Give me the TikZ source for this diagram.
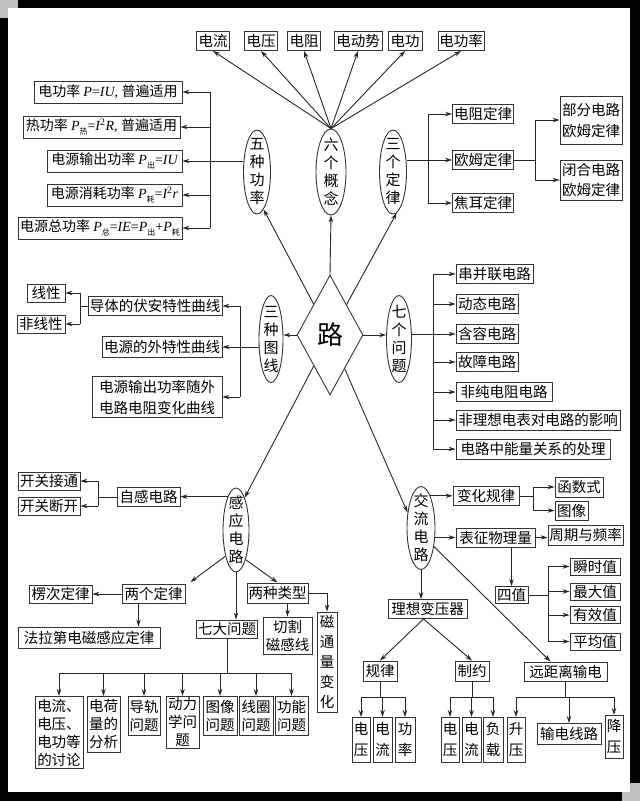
\documentclass[tikz,border=0pt]{standalone}
\usepackage{fontspec}
\setmainfont{Noto Sans CJK SC}
\newfontfamily\ser{Liberation Serif}
\usetikzlibrary{shapes.geometric,arrows.meta}
\newcommand{\myit}[1]{{\ser\itshape #1}}
\newcommand{\myrm}[1]{{\ser #1}}
\newcommand{\mysub}[1]{\raisebox{-0.45ex}{\fontsize{8}{8}\selectfont #1}}
\tikzset{
  box/.style={draw=black!80, line width=0.9pt, inner sep=1pt, font=\fontsize{14.5}{17}\selectfont, align=center},
  vbox/.style={box, font=\fontsize{14.5}{21}\selectfont},
  pbox/.style={box, font=\fontsize{14}{17}\selectfont},
  sz/.style 2 args={minimum width=#1pt, minimum height=#2pt},
  ell/.style={ellipse, draw=black!80, line width=0.9pt, inner xsep=0pt, inner ysep=-10pt, font=\fontsize{15}{18}\selectfont, align=center},
  arr/.style={draw=black!85, line width=0.9pt, -{Stealth[length=7pt,width=4.5pt]}},
  ln/.style={draw=black!85, line width=0.9pt}
}
\begin{document}
\begin{tikzpicture}[x=1pt,y=-1pt]
\useasboundingbox (0,0) rectangle (640,801);
% frame
\fill[black] (0,0) rectangle (640,801);
\fill[black!25] (0,0) rectangle (18,18);
\fill[black!25] (622,783) rectangle (640,801);
\fill[white] (8,8) rectangle (630,792);

% centre
\node[diamond, draw=black!80, line width=0.9pt, minimum width=66pt, minimum height=120pt, inner sep=0pt, font=\fontsize{26}{26}\selectfont] (dia) at (330,335) {路};

% ellipses
\node[ell, sz={27}{84}] (e5) at (257,172) {五\\种\\功\\率};
\node[ell, sz={30}{86}] (e6) at (331,172) {六\\个\\概\\念};
\node[ell, sz={27}{84}] (e3) at (393,172) {三\\个\\定\\律};
\node[ell, sz={24}{87}] (eT) at (271,339) {三\\种\\图\\线};
\node[ell, sz={25}{87}] (e7) at (399,339) {七\\个\\问\\题};
\node[ell, sz={26}{84}] (eG) at (236,530) {感\\应\\电\\路};
\node[ell, sz={28}{83}] (eJ) at (421,528) {交\\流\\电\\路};

% six concepts
\node[box, sz={33}{19}] (c1) at (213,41) {电流};
\node[box, sz={33}{19}] (c2) at (261,41) {电压};
\node[box, sz={33}{19}] (c3) at (304,41) {电阻};
\node[box, sz={48}{19}] (c4) at (358,41) {电动势};
\node[box, sz={34}{19}] (c5) at (405,41) {电功};
\node[box, sz={46}{19}] (c6) at (461,41) {电功率};

% five powers
\node[pbox, sz={148}{22}] (b1) at (108,92) {电功率 \myit{P}\myrm{=}\myit{IU}\myrm{, }普遍适用};
\node[pbox, sz={157}{22}] (b2) at (101.5,127) {热功率 \myit{P}\mysub{热}\myrm{=}\myit{I}\myrm{\textsuperscript{2}}\myit{R}\myrm{, }普遍适用};
\node[pbox, sz={135}{22}] (b3) at (114.5,161) {电源输出功率 \myit{P}\mysub{出}\myrm{=}\myit{IU}};
\node[pbox, sz={135}{22}] (b4) at (114.5,195) {电源消耗功率 \myit{P}\mysub{耗}\myrm{=}\myit{I}\myrm{\textsuperscript{2}}\myit{r}};
\node[pbox, sz={164}{22}] (b5) at (100,228) {电源总功率 \myit{P}\mysub{总}\myrm{=}\myit{IE}\myrm{=}\myit{P}\mysub{出}\myrm{+}\myit{P}\mysub{耗}};

% three laws
\node[box, sz={61}{19}] (L1) at (483,114) {电阻定律};
\node[box, sz={61}{19}] (L2) at (483,160) {欧姆定律};
\node[box, sz={61}{19}] (L3) at (483,203) {焦耳定律};
\node[vbox, sz={62}{48}] (LA) at (591,120) {部分电路\\欧姆定律};
\node[vbox, sz={62}{40}, font=\fontsize{14.5}{20}\selectfont] (LB) at (591,180) {闭合电路\\欧姆定律};

% seven problems
\node[box, sz={77}{19}] (s1) at (494.5,274) {串并联电路};
\node[box, sz={62}{19}] (s2) at (487,304) {动态电路};
\node[box, sz={62}{19}] (s3) at (487,334) {含容电路};
\node[box, sz={62}{19}] (s4) at (487,362) {故障电路};
\node[box, sz={96}{19}] (s5) at (504,392) {非纯电阻电路};
\node[box, sz={164}{20}] (s6) at (538,420) {非理想电表对电路的影响};
\node[box, sz={154}{20}] (s7) at (533,449) {电路中能量关系的处理};

% three curves
\node[box, sz={134}{19}] (t1) at (155,306) {导体的伏安特性曲线};
\node[box, sz={120}{21}] (t2) at (162,347) {电源的外特性曲线};
\node[vbox, sz={130}{41}] (t3) at (157,397) {电源输出功率随外\\电路电阻变化曲线};
\node[box, sz={38}{18}] (t4) at (46,293) {线性};
\node[box, sz={48}{18}] (t5) at (41,324) {非线性};

% induction circuit
\node[box, sz={63}{19}] (z1) at (148.5,497) {自感电路};
\node[box, sz={62}{18}] (z2) at (49,481) {开关接通};
\node[box, sz={62}{18}] (z3) at (49,506) {开关断开};
\node[box, sz={63}{18}] (w1) at (60.5,594) {楞次定律};
\node[box, sz={63}{19}] (w2) at (153.5,594) {两个定律};
\node[box, sz={61}{20}] (w3) at (277.5,593) {两种类型};
\node[box, sz={142}{21}] (w4) at (89,637.5) {法拉第电磁感应定律};
\node[box, sz={49}{37}, font=\fontsize{14.5}{18}\selectfont] (w5) at (287.5,635.5) {切割\\磁感线};
\node[box, sz={20}{100}, font=\fontsize{14.5}{20}\selectfont] (w6) at (327,662) {磁\\通\\量\\变\\化};
\node[box, sz={61}{18}] (w7) at (227,629) {七大问题};

\tikzset{qb/.style={box, anchor=north, font=\fontsize{14.5}{18}\selectfont}}
\node[qb, sz={48}{72}] (q1) at (59,696) {电流、\\电压、\\电功等\\的讨论};
\node[qb, sz={33}{56}] (q2) at (103.5,696) {电荷\\量的\\分析};
\node[qb, sz={32}{39}] (q3) at (144,696) {导轨\\问题};
\node[qb, sz={33}{52}] (q4) at (182.5,696) {动力\\学问\\题};
\node[qb, sz={34}{39}] (q5) at (220,696) {图像\\问题};
\node[qb, sz={34}{39}] (q6) at (256,696) {线圈\\问题};
\node[qb, sz={33}{39}] (q7) at (291.5,696) {功能\\问题};

% AC circuit
\node[box, sz={66}{19}] (v1) at (486,496) {变化规律};
\node[box, sz={79}{19}] (v2) at (495.5,537.5) {表征物理量};
\node[box, sz={48}{20}] (u1) at (579,487) {函数式};
\node[box, sz={33}{19}] (u2) at (571.5,510.5) {图像};
\node[box, sz={75}{20}] (u3) at (585.5,535) {周期与频率};
\node[box, sz={33}{17}] (u4) at (511.5,595) {四值};
\node[box, sz={50}{17}] (r1) at (595,566.5) {瞬时值};
\node[box, sz={50}{17}] (r2) at (595,591.5) {最大值};
\node[box, sz={50}{17}] (r3) at (595,615) {有效值};
\node[box, sz={50}{17}] (r4) at (595,641.5) {平均值};
\node[box, sz={79}{19}] (x1) at (427.5,609) {理想变压器};
\node[box, sz={34}{20}] (x2) at (380,671) {规律};
\node[box, sz={34}{20}] (x3) at (472,671) {制约};
\node[box, sz={83}{19}] (x4) at (565.5,671.5) {远距离输电};

\tikzset{gb/.style={vbox, anchor=north}}
\node[gb, sz={18}{45}] (g1) at (361,717) {电\\压};
\node[gb, sz={19}{45}] (g2) at (382.5,717) {电\\流};
\node[gb, sz={20}{45}] (g3) at (405,717) {功\\率};
\node[gb, sz={18}{45}] (h1) at (450,717) {电\\压};
\node[gb, sz={19}{45}] (h2) at (471.5,717) {电\\流};
\node[gb, sz={20}{45}] (h3) at (493,717) {负\\载};
\node[gb, sz={18}{45}] (i1) at (516,717) {升\\压};
\node[box, anchor=north, sz={64}{21}] (i2) at (569,723) {输电线路};
\node[gb, sz={18}{43}] (i3) at (614,715) {降\\压};

% ---- connectors ----
\draw[arr] (dia.north) -- (e6.south);
\draw[arr] (dia) -- (e5.280);
\draw[arr] (dia) -- (e3.275);
\draw[arr] (dia.west) -- (dia.west -| eT.east);
\draw[arr] (dia.east) -- (dia.east -| e7.west);
\draw[arr] (dia) -- (eG.75);
\draw[arr] (dia) -- (eJ.131);

\foreach \nm in {c1,c2,c3,c4,c5,c6} \draw[arr] (e6.north) -- (\nm.south);

\coordinate (k5) at (210,0);
\draw[arr] (e5.west |- b3) -- (b3.east);
\draw[ln] (k5 |- b1) -- (k5 |- b5);
\foreach \nm in {b1,b2,b4,b5} \draw[arr] (k5 |- \nm) -- (\nm.east);

\coordinate (k3) at (428,0);
\draw[arr] (e3.east |- L2) -- (L2.west);
\draw[ln] (k3 |- L1) -- (k3 |- L3);
\draw[arr] (k3 |- L1) -- (L1.west);
\draw[arr] (k3 |- L3) -- (L3.west);
\coordinate (kO) at (535,0);
\draw[ln] (L2.east) -- (kO |- L2);
\draw[ln] (kO |- LA) -- (kO |- LB);
\draw[arr] (kO |- LA) -- (LA.west);
\draw[arr] (kO |- LB) -- (LB.west);

\coordinate (kT) at (240,0);
\draw[arr] (eT.west |- t2) -- (t2.east);
\draw[ln] (kT |- t1) -- (kT |- t3);
\draw[arr] (kT |- t1) -- (t1.east);
\draw[arr] (kT |- t3) -- (t3.east);
\coordinate (kL) at (80,0);
\draw[ln] (t1.west) -- (kL |- t1);
\draw[ln] (kL |- t4) -- (kL |- t5);
\draw[arr] (kL |- t4) -- (t4.east);
\draw[arr] (kL |- t5) -- (t5.east);

\coordinate (k7) at (433,0);
\draw[ln] (e7.east |- s3) -- (k7 |- s3);
\draw[ln] (k7 |- s1) -- (k7 |- s7);
\foreach \i in {1,...,7} \draw[arr] (k7 |- s\i) -- (s\i.west);

\draw[arr] (eG.104) -- (eG.104 -| z1.east);
\coordinate (kZ) at (98,0);
\draw[ln] (z1.west) -- (kZ |- z1);
\draw[ln] (kZ |- z2) -- (kZ |- z3);
\draw[arr] (kZ |- z2) -- (z2.east);
\draw[arr] (kZ |- z3) -- (z3.east);
\draw[arr] (eG.248) -- ([xshift=5pt,yshift=2pt]w2.north east);
\draw[arr] (eG.288) -- (w3.north);
\draw[arr] (eG.south) -- (eG.south |- w7.north);
\draw[arr] (w2.west) -- (w1.east);
\coordinate (w2d) at ([xshift=-15pt]w2.south);
\draw[arr] (w2d) -- (w2d |- w4.north);
\draw[arr] (w3.south -| w5.north) -- (w5.north);
\draw[arr] (w3.east) -- (w3.east -| w6.north) -- (w6.north);
\coordinate (yb) at (0,673);
\draw[ln] (w7.south) -- (w7.south |- yb);
\draw[ln] (q1.north |- yb) -- (q7.north |- yb);
\foreach \i in {1,...,7} \draw[arr] (q\i.north |- yb) -- (q\i.north);

\draw[arr] (eJ.74) -- (eJ.74 -| v1.west);
\draw[arr] (eJ.east |- v2) -- (v2.west);
\coordinate (kV) at (533,0);
\draw[ln] (v1.east) -- (kV |- v1);
\draw[ln] (kV |- u1) -- (kV |- u2);
\draw[arr] (kV |- u1) -- (u1.west);
\draw[arr] (kV |- u2) -- (u2.west);
\draw[arr] (v2.east) -- (v2.east -| u3.west);
\draw[arr] (v2.south -| u4.north) -- (u4.north);
\coordinate (kU) at (548,0);
\draw[ln] (u4.east) -- (kU |- u4);
\draw[ln] (kU |- r1) -- (kU |- r4);
\foreach \i in {1,...,4} \draw[arr] (kU |- r\i) -- (r\i.west);

\draw[arr] (eJ.south) -- (eJ.south |- x1.north);
\draw[arr] (eJ.305) -- ([xshift=-15pt]x4.north);
\coordinate (x1b) at ([xshift=-4pt]x1.south);
\draw[arr] (x1b) -- (x2.north);
\draw[arr] (x1b) -- (x3.north);
\coordinate (yc) at (0,697);
\draw[ln] (x2.south) -- (x2.south |- yc);
\draw[ln] (g1.north |- yc) -- (g3.north |- yc);
\foreach \i in {1,2,3} \draw[arr] (g\i.north |- yc) -- (g\i.north);
\draw[ln] (x3.south) -- (x3.south |- yc);
\draw[ln] (h1.north |- yc) -- (h3.north |- yc);
\foreach \i in {1,2,3} \draw[arr] (h\i.north |- yc) -- (h\i.north);
\draw[ln] (x4.south) -- (x4.south |- yc);
\draw[ln] (i1.north |- yc) -- (i3.north |- yc);
\foreach \i in {1,2,3} \draw[arr] (i\i.north |- yc) -- (i\i.north);
\end{tikzpicture}
\end{document}
